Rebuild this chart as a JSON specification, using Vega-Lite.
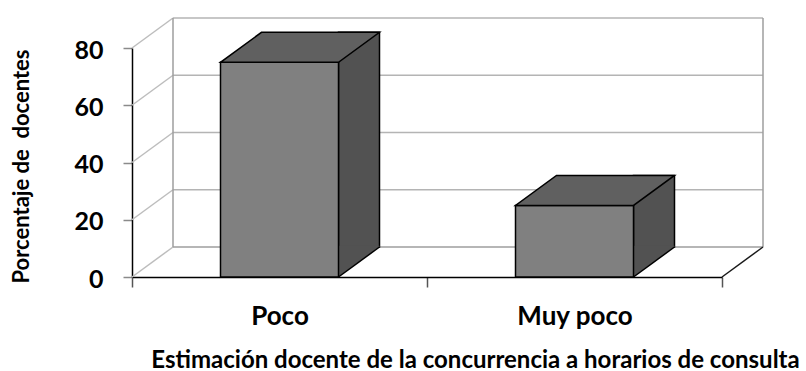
{
  "$schema": "https://vega.github.io/schema/vega-lite/v6.json",
  "width": 590,
  "height": 229,
  "autosize": {"type": "none"},
  "padding": {"left": 132, "top": 48, "right": 84, "bottom": 94},
  "background": "white",
  "config": {
    "view": {"stroke": null},
    "font": "Lato",
    "scale": {"bandPaddingInner": 0, "bandPaddingOuter": 0, "barBandPaddingInner": 0, "rectBandPaddingInner": 0}
  },
  "datasets": {
    "barras": [
      {"categoria": "Poco", "porcentaje": 75},
      {"categoria": "Muy poco", "porcentaje": 25}
    ],
    "escala": [
      {"v": 0}, {"v": 20}, {"v": 40}, {"v": 60}, {"v": 80}
    ]
  },
  "layer": [
    {
      "data": {"name": "escala"},
      "transform": [{"filter": "datum.v > 0"}],
      "mark": {"type": "rule", "color": "#b4b4b4", "strokeWidth": 1.5, "xOffset": 41, "x2Offset": 41, "yOffset": -30, "y2Offset": -30},
      "encoding": {
        "x": {
          "datum": "Poco", "type": "nominal", "bandPosition": 0,
          "scale": {"domain": ["Poco", "Muy poco"], "paddingInner": 0, "paddingOuter": 0},
          "axis": {
            "title": "Estimación docente de la concurrencia a horarios de consulta",
            "titleFont": "Lato", "titleFontSize": 24, "titleFontWeight": "bold", "titleColor": "black",
            "titleX": 343, "titleY": 90, "titleBaseline": "alphabetic", "titleAnchor": "middle",
            "labelAngle": 0, "labelFont": "Lato", "labelFontSize": 26, "labelFontWeight": "bold", "labelColor": "black",
            "labelBaseline": "alphabetic", "labelPadding": 37,
            "tickBand": "extent", "tickSize": 10, "tickColor": "#555555", "tickWidth": 1.5,
            "domainColor": "black", "domainWidth": 1.5
          }
        },
        "x2": {"datum": "Muy poco", "bandPosition": 1},
        "y": {
          "field": "v", "type": "quantitative",
          "scale": {"domain": [0, 80], "nice": false},
          "axis": {
            "title": "Porcentaje de\u00a0 docentes",
            "titleFont": "Lato", "titleFontSize": 22, "titleFontWeight": "bold", "titleColor": "black",
            "titleX": -99, "titleY": 118, "titleBaseline": "bottom", "titleAngle": -90, "titleAnchor": "middle",
            "values": [0, 20, 40, 60, 80],
            "labelFont": "Lato", "labelFontSize": 25, "labelFontWeight": "bold", "labelColor": "black",
            "labelPadding": 20, "labelOffset": 2,
            "tickSize": 9, "tickColor": "#8a8a8a", "tickWidth": 1.5,
            "domainColor": "black", "domainWidth": 1.5,
            "grid": false
          }
        }
      }
    },
    {
      "data": {"name": "escala"},
      "mark": {"type": "rule", "color": "#bdbdbd", "strokeWidth": 1.5, "x2Offset": 41, "y2Offset": -30},
      "encoding": {
        "x": {"datum": "Poco", "type": "nominal", "bandPosition": 0},
        "x2": {"datum": "Poco", "bandPosition": 0},
        "y": {"field": "v", "type": "quantitative"},
        "y2": {"field": "v"}
      }
    },
    {
      "data": {"values": [{}]},
      "mark": {"type": "rule", "color": "#9e9e9e", "strokeWidth": 1.5, "xOffset": 41, "x2Offset": 41, "yOffset": -30, "y2Offset": -30},
      "encoding": {
        "x": {"datum": "Poco", "type": "nominal", "bandPosition": 0},
        "x2": {"datum": "Muy poco", "bandPosition": 1},
        "y": {"datum": 0, "type": "quantitative"}
      }
    },
    {
      "data": {"values": [{}]},
      "mark": {"type": "rule", "color": "#9e9e9e", "strokeWidth": 1.5, "xOffset": 41, "yOffset": -30, "y2Offset": -30},
      "encoding": {
        "x": {"datum": "Poco", "type": "nominal", "bandPosition": 0},
        "y": {"datum": 0, "type": "quantitative"},
        "y2": {"datum": 80}
      }
    },
    {
      "data": {"values": [{}]},
      "mark": {"type": "rule", "color": "#9e9e9e", "strokeWidth": 1.5, "xOffset": 41, "yOffset": -30, "y2Offset": -30},
      "encoding": {
        "x": {"datum": "Muy poco", "type": "nominal", "bandPosition": 1},
        "y": {"datum": 0, "type": "quantitative"},
        "y2": {"datum": 80}
      }
    },
    {
      "data": {"values": [{}]},
      "mark": {"type": "rule", "color": "#1a1a1a", "strokeWidth": 1.5, "x2Offset": 41, "y2Offset": -30},
      "encoding": {
        "x": {"datum": "Muy poco", "type": "nominal", "bandPosition": 1},
        "x2": {"datum": "Muy poco", "bandPosition": 1},
        "y": {"datum": 0, "type": "quantitative"},
        "y2": {"datum": 0}
      }
    },
    {
      "data": {"name": "barras"},
      "mark": {"type": "bar", "width": 41, "xOffset": 79.5, "yOffset": -30, "y2Offset": -30, "fill": "#525252", "stroke": "black", "strokeWidth": 1.5, "opacity": 1},
      "encoding": {
        "x": {"field": "categoria", "type": "nominal"},
        "y": {"field": "porcentaje", "type": "quantitative"},
        "y2": {"datum": 0}
      }
    },
    {
      "data": {"name": "barras"},
      "mark": {"type": "point", "shape": "M 59 -31.2 L 100 -31.2 L 100 -30 L 59 0 Z", "size": 4, "filled": true, "fill": "#525252", "strokeWidth": 0, "opacity": 1},
      "encoding": {
        "x": {"field": "categoria", "type": "nominal"},
        "y": {"datum": 0, "type": "quantitative"}
      }
    },
    {
      "data": {"name": "barras"},
      "mark": {"type": "point", "shape": "M 59 0 L 100 -30", "size": 4, "filled": false, "stroke": "black", "strokeWidth": 1.5, "opacity": 1},
      "encoding": {
        "x": {"field": "categoria", "type": "nominal"},
        "y": {"datum": 0, "type": "quantitative"}
      }
    },
    {
      "data": {"name": "barras"},
      "mark": {"type": "bar", "width": {"band": 0.4}, "fill": "#808080", "stroke": "black", "strokeWidth": 1.5, "opacity": 1},
      "encoding": {
        "x": {"field": "categoria", "type": "nominal"},
        "y": {"field": "porcentaje", "type": "quantitative"},
        "y2": {"datum": 0}
      }
    },
    {
      "data": {"name": "barras"},
      "mark": {"type": "point", "shape": "M -59 0 L 59 0 L 100 -30 L -18 -30 Z", "size": 4, "filled": true, "fill": "#606060", "stroke": "black", "strokeWidth": 1.5, "opacity": 1},
      "encoding": {
        "x": {"field": "categoria", "type": "nominal"},
        "y": {"field": "porcentaje", "type": "quantitative"}
      }
    }
  ]
}
